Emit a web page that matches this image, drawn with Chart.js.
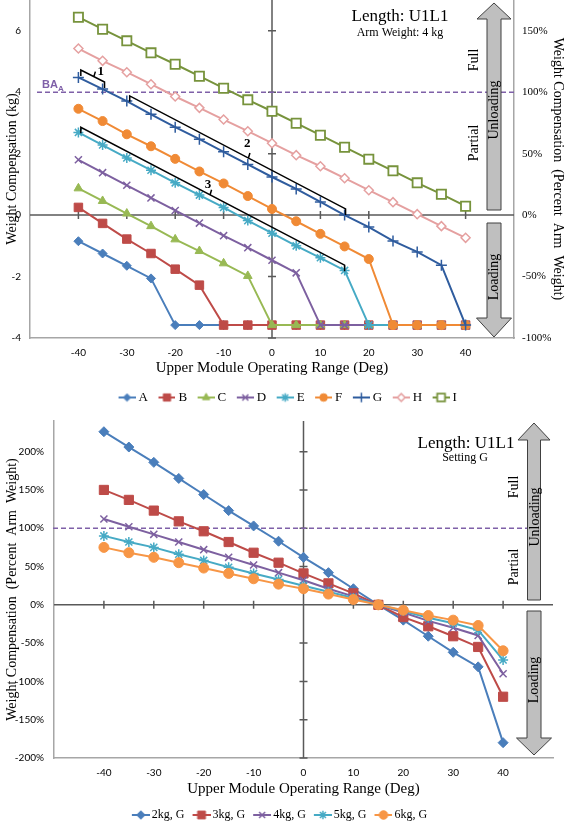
<!DOCTYPE html>
<html>
<head>
<meta charset="utf-8">
<script src="https://cdn.jsdelivr.net/npm/chart.js@4.4.1/dist/chart.umd.min.js"></script>
<style>
  body { margin: 0; background: #fff; }
  #wrap { position: relative; width: 567px; height: 823px; overflow: hidden; }
  canvas { position: absolute; left: 0; }
  #topChart { top: 0; }
  #bottomChart { top: 405px; }
</style>
</head>
<body>
<div id="wrap">
  <canvas id="topChart" width="567" height="414"></canvas>
  <canvas id="bottomChart" width="567" height="426"></canvas>
</div>
<script>
// Operating range (deg) shared by every series
const angles = [-40, -35, -30, -25, -20, -15, -10, -5, 0, 5, 10, 15, 20, 25, 30, 35, 40];
const xTicks = [-40, -30, -20, -10, 0, 10, 20, 30, 40];
const kgTicks = [-4, -2, 0, 2, 4, 6];
const pctTicksTop = [-100, -50, 0, 50, 100, 150];
const pctTicksBottom = [-200, -150, -100, -50, 0, 50, 100, 150, 200];

// Top chart: weight compensation (kg) per setting, arm weight 4 kg
const settingNames = ['A', 'B', 'C', 'D', 'E', 'F', 'G', 'H', 'I'];
const setA = [-0.85, -1.25, -1.65, -2.06, -3.58, -3.58, -3.58, -3.58, -3.58, -3.58, -3.58, -3.58, -3.58, -3.58, -3.58, -3.58, -3.58];
const setB = [0.25, -0.27, -0.78, -1.25, -1.76, -2.28, -3.58, -3.58, -3.58, -3.58, -3.58, -3.58, -3.58, -3.58, -3.58, -3.58, -3.58];
const setC = [0.87, 0.46, 0.05, -0.36, -0.79, -1.17, -1.57, -1.98, -3.58, -3.58, -3.58, -3.58, -3.58, -3.58, -3.58, -3.58, -3.58];
const setD = [1.8, 1.38, 0.97, 0.56, 0.15, -0.26, -0.67, -1.06, -1.47, -1.88, -3.58, -3.58, -3.58, -3.58, -3.58, -3.58, -3.58];
const setE = [2.69, 2.28, 1.86, 1.46, 1.05, 0.65, 0.25, -0.18, -0.59, -1.0, -1.39, -1.8, -3.58, -3.58, -3.58, -3.58, -3.58];
const setF = [3.46, 3.06, 2.63, 2.24, 1.83, 1.42, 1.03, 0.62, 0.2, -0.2, -0.61, -1.02, -1.43, -3.58, -3.58, -3.58, -3.58];
const setG = [4.48, 4.1, 3.71, 3.28, 2.86, 2.47, 2.06, 1.65, 1.24, 0.85, 0.43, 0.0, -0.39, -0.84, -1.2, -1.63, -3.58];
const setH = [5.42, 5.02, 4.65, 4.26, 3.86, 3.49, 3.11, 2.73, 2.34, 1.95, 1.59, 1.2, 0.81, 0.42, 0.03, -0.36, -0.74];
const setI = [6.44, 6.05, 5.67, 5.28, 4.91, 4.52, 4.13, 3.75, 3.38, 2.99, 2.6, 2.21, 1.82, 1.44, 1.05, 0.68, 0.29];

// Bottom chart: percent arm weight, setting G, arm weights 2..6 kg
const weightNames = ['2kg, G', '3kg, G', '4kg, G', '5kg, G', '6kg, G'];
const arm2kg = [226, 206, 186, 165, 144, 123, 103, 83, 62, 42, 21, 0, -20, -41, -62, -81, -180];
const arm3kg = [150, 137, 123, 109, 96, 82, 68, 55, 41, 28, 15, 0, -16, -28, -41, -55, -120];
const arm4kg = [112, 102, 92, 82, 72, 62, 52, 42, 32, 21, 11, 0, -10, -21, -30, -40, -90];
const arm5kg = [90, 82, 75, 66, 58, 49, 41, 33, 25, 17, 9, 0, -8, -17, -24, -33, -72];
const arm6kg = [75, 68, 62, 55, 48, 41, 34, 27, 21, 14, 7, 0, -7, -14, -20, -27, -60];

const SERIF = 'Liberation Serif';
const SANS = 'Lato';
const PURPLE = '#7F60A8';

// marker look for each series
const topStyles = [
    { color: '#4A7EBB', shape: 'rectRot', r: 4.5, bw: 1 },
    { color: '#BE4B48', shape: 'rect', r: 6, bw: 1 },
    { color: '#98B954', shape: 'triangle', r: 5, bw: 1 },
    { color: '#7D60A0', shape: 'crossRot', r: 5, bw: 1.5 },
    { color: '#46AAC5', shape: 'star', r: 5, bw: 1.5 },
    { color: '#F08A35', shape: 'circle', r: 4.5, bw: 1 },
    { color: '#2F5C9E', shape: 'cross', r: 5.5, bw: 1.5 },
    { color: '#E5A0A0', shape: 'rectRot', r: 4.5, bw: 1.5, fill: '#ffffff' },
    { color: '#77933C', shape: 'rect', r: 6.5, bw: 1.8, fill: '#ffffff' }
];
const bottomStyles = [
    { color: '#4A7EBB', shape: 'rectRot', r: 5, bw: 1 },
    { color: '#BE4B48', shape: 'rect', r: 6.5, bw: 1 },
    { color: '#7D60A0', shape: 'crossRot', r: 5, bw: 1.5 },
    { color: '#46AAC5', shape: 'star', r: 5, bw: 1.5 },
    { color: '#F79646', shape: 'circle', r: 5, bw: 1 }
];

function legendImage(st, width, lineLen) {
    const c = document.createElement('canvas');
    c.width = width;
    c.height = 16;
    const g = c.getContext('2d');
    g.strokeStyle = st.color;
    g.lineWidth = 2;
    g.beginPath();
    g.moveTo(width - lineLen, 8);
    g.lineTo(width, 8);
    g.stroke();
    g.fillStyle = st.fill || st.color;
    g.lineWidth = st.bw;
    Chart.helpers.drawPoint(g, { pointStyle: st.shape, radius: st.r * 0.85, rotation: 0, borderWidth: st.bw }, width - lineLen / 2, 8);
    return c;
}

function makeDataset(label, values, st, idx, img) {
    return {
        label: label,
        data: values.map((v, i) => ({ x: angles[i], y: v })),
        borderColor: st.color,
        backgroundColor: st.fill || st.color,
        borderWidth: 2,
        pointStyle: st.shape,
        pointRadius: st.r,
        pointHoverRadius: st.r,
        pointBorderColor: st.color,
        pointBackgroundColor: st.fill || st.color,
        pointBorderWidth: st.bw,
        tension: 0,
        clip: false,
        order: -idx,
        legendImg: img
    };
}

function legendLabels(chart) {
    return chart.data.datasets.map((ds, i) => ({
        text: ds.label,
        pointStyle: ds.legendImg,
        fillStyle: 'rgba(0,0,0,0)',
        strokeStyle: 'rgba(0,0,0,0)',
        lineWidth: 0,
        hidden: false,
        datasetIndex: i,
        fontColor: '#000'
    }));
}

function fixedTicks(list) {
    return scale => { scale.ticks = list.map(v => ({ value: v })); };
}

// fixed axis size, and no extra room for the end labels
function fitWidth(w) {
    return s => { s.width = w; s.paddingTop = 0; s.paddingBottom = 0; };
}
function fitHeight(h) {
    return s => { s.height = h; s.paddingLeft = 0; s.paddingRight = 0; };
}

// axes crossing at the origin, with small tick marks
function drawCrossAxes(chart) {
    const { ctx, chartArea: a, scales } = chart;
    const x = scales.x, y = scales.y;
    const x0 = x.getPixelForValue(0), y0 = y.getPixelForValue(0);
    ctx.save();
    ctx.strokeStyle = '#595959';
    ctx.lineWidth = 1.5;
    ctx.beginPath();
    ctx.moveTo(a.left, y0); ctx.lineTo(a.right, y0);
    ctx.moveTo(x0, a.top); ctx.lineTo(x0, a.bottom);
    x.ticks.forEach(t => {
        if (t.value === 0) return;
        const px = x.getPixelForValue(t.value);
        ctx.moveTo(px, y0 - 4); ctx.lineTo(px, y0 + 4);
    });
    y.ticks.forEach(t => {
        if (t.value === 0) return;
        const py = y.getPixelForValue(t.value);
        ctx.moveTo(x0 - 4, py); ctx.lineTo(x0 + 4, py);
    });
    ctx.stroke();
    ctx.restore();
}

function drawDashed(ctx, x1, x2, yPx) {
    ctx.save();
    ctx.strokeStyle = PURPLE;
    ctx.lineWidth = 1.5;
    ctx.setLineDash([5, 3]);
    ctx.beginPath();
    ctx.moveTo(x1, yPx); ctx.lineTo(x2, yPx);
    ctx.stroke();
    ctx.restore();
}

function drawBlockArrow(ctx, cx, from, to, shaftHalf, headHalf, headLen) {
    const dir = to < from ? -1 : 1;
    const base = to - dir * headLen;
    ctx.save();
    ctx.beginPath();
    ctx.moveTo(cx - shaftHalf, from);
    ctx.lineTo(cx - shaftHalf, base);
    ctx.lineTo(cx - headHalf, base);
    ctx.lineTo(cx, to);
    ctx.lineTo(cx + headHalf, base);
    ctx.lineTo(cx + shaftHalf, base);
    ctx.lineTo(cx + shaftHalf, from);
    ctx.closePath();
    ctx.fillStyle = '#BFBFBF';
    ctx.fill();
    ctx.strokeStyle = '#404040';
    ctx.lineWidth = 1;
    ctx.stroke();
    ctx.restore();
}

function vText(ctx, text, x, y, size) {
    ctx.save();
    ctx.translate(x, y);
    ctx.rotate(-Math.PI / 2);
    ctx.font = size + 'px "' + SERIF + '"';
    ctx.fillStyle = '#000';
    ctx.textAlign = 'center';
    ctx.textBaseline = 'middle';
    ctx.fillText(text, 0, 0);
    ctx.restore();
}

function hText(ctx, text, x, y, font) {
    ctx.save();
    ctx.font = font;
    ctx.fillStyle = '#000';
    ctx.textAlign = 'center';
    ctx.textBaseline = 'middle';
    ctx.fillText(text, x, y);
    ctx.restore();
}

// brackets over setting G and E ranges, in data units
const brackets = [
    { label: '1', from: [-39.5, 4.72], to: [-34.6, 4.33], at: 0.55, text: [-35.4, 4.68] },
    { label: '2', from: [-29.4, 3.88], to: [15.2, 0.2], at: 0.55, text: [-5.1, 2.34] },
    { label: '3', from: [-39.5, 2.86], to: [15, -1.63], at: 0.49, text: [-13.2, 0.98] }
];

function drawBrackets(chart) {
    const { ctx, scales } = chart;
    const x = scales.x, y = scales.y;
    ctx.save();
    ctx.strokeStyle = '#000';
    ctx.lineWidth = 1.5;
    ctx.font = 'bold 13px "' + SERIF + '"';
    ctx.fillStyle = '#000';
    ctx.textAlign = 'center';
    ctx.textBaseline = 'middle';
    brackets.forEach(b => {
        const x1 = x.getPixelForValue(b.from[0]), y1 = y.getPixelForValue(b.from[1]);
        const x2 = x.getPixelForValue(b.to[0]), y2 = y.getPixelForValue(b.to[1]);
        const mx = x1 + (x2 - x1) * b.at, my = y1 + (y2 - y1) * b.at;
        ctx.beginPath();
        ctx.moveTo(x1, y1 + 6); ctx.lineTo(x1, y1);
        ctx.lineTo(x2, y2); ctx.lineTo(x2, y2 + 6);
        ctx.moveTo(mx, my); ctx.lineTo(mx + 1.5, my - 5);
        ctx.stroke();
        ctx.fillText(b.label, x.getPixelForValue(b.text[0]), y.getPixelForValue(b.text[1]));
    });
    ctx.restore();
}

const topDecor = {
    id: 'topDecor',
    beforeDatasetsDraw(chart) {
        drawCrossAxes(chart);
        const yKg = chart.scales.y.getPixelForValue(4);
        drawDashed(chart.ctx, 37, chart.chartArea.right, yKg);
    },
    afterDatasetsDraw(chart) {
        const ctx = chart.ctx;
        drawBrackets(chart);
        // BA_A label
        const yKg = chart.scales.y.getPixelForValue(4);
        ctx.save();
        ctx.fillStyle = PURPLE;
        ctx.textBaseline = 'alphabetic';
        ctx.font = 'bold 11px "Liberation Sans"';
        ctx.fillText('BA', 42, yKg - 4);
        ctx.font = 'bold 8px "Liberation Sans"';
        ctx.fillText('A', 58, yKg - 1);
        ctx.restore();
        // arrows
        drawBlockArrow(ctx, 494, 210, 3, 7, 17, 16);
        drawBlockArrow(ctx, 494, 223, 337, 7, 17.5, 19);
        vText(ctx, 'Unloading', 494, 110, 14);
        vText(ctx, 'Loading', 494, 277, 14);
        vText(ctx, 'Full', 474, 60, 14);
        vText(ctx, 'Partial', 474, 143, 14);
        hText(ctx, 'Length: U1L1', 400, 17, '17px "' + SERIF + '"');
        hText(ctx, 'Arm Weight: 4 kg', 400, 33, '12px "' + SERIF + '"');
    }
};

const bottomDecor = {
    id: 'bottomDecor',
    beforeDatasetsDraw(chart) {
        drawCrossAxes(chart);
        const yPct = chart.scales.y.getPixelForValue(100);
        drawDashed(chart.ctx, 53, 527, yPct);
    },
    afterDatasetsDraw(chart) {
        const ctx = chart.ctx;
        drawBlockArrow(ctx, 534, 195, 18, 6.5, 16, 17);
        drawBlockArrow(ctx, 534, 206, 350, 7, 17.5, 17);
        vText(ctx, 'Unloading', 535, 112, 14);
        vText(ctx, 'Loading', 534, 275, 14);
        vText(ctx, 'Full', 514, 82, 14);
        vText(ctx, 'Partial', 514, 162, 14);
        hText(ctx, 'Length: U1L1', 466, 39, '17px "' + SERIF + '"');
        hText(ctx, 'Setting G', 465, 53, '12px "' + SERIF + '"');
    }
};

const axisBorder = { color: '#A6A6A6', width: 1.5 };
const noGrid = { display: false, drawTicks: false };

// ---- top chart ----
const topSeries = [setA, setB, setC, setD, setE, setF, setG, setH, setI];
const topDatasets = topSeries.map((vals, i) =>
    makeDataset(settingNames[i], vals, topStyles[i], i, legendImage(topStyles[i], 29, 17)));

new Chart(document.getElementById('topChart'), {
    type: 'line',
    data: { datasets: topDatasets },
    options: {
        responsive: false,
        animation: false,
        events: [],
        layout: { padding: 0, autoPadding: false },
        plugins: {
            legend: {
                position: 'bottom',
                labels: {
                    usePointStyle: true,
                    pointStyleWidth: 22,
                    padding: 2,
                    color: '#000',
                    font: { family: SERIF, size: 13 },
                    generateLabels: legendLabels
                }
            },
            tooltip: { enabled: false }
        },
        scales: {
            x: {
                type: 'linear',
                min: -50,
                max: 50,
                afterBuildTicks: fixedTicks(xTicks),
                afterFit: fitHeight(51),
                grid: noGrid,
                border: axisBorder,
                ticks: { padding: 9, autoSkip: false, maxRotation: 0, color: '#000', font: { family: SANS, size: 10 } },
                title: { display: true, text: 'Upper Module Operating Range (Deg)', color: '#000', font: { family: SERIF, size: 15 }, padding: { top: 0, bottom: 12 } }
            },
            y: {
                position: 'left',
                min: -4,
                max: 7,
                afterBuildTicks: fixedTicks(kgTicks),
                afterFit: fitWidth(30),
                grid: noGrid,
                border: axisBorder,
                ticks: { padding: 9, autoSkip: false, color: '#000', font: { family: SANS, size: 10 } },
                title: { display: true, text: 'Weight Compensation (kg)', color: '#000', font: { family: SERIF, size: 14 }, padding: { top: 4, bottom: 0 } }
            },
            y2: {
                position: 'right',
                min: -100,
                max: 175,
                afterBuildTicks: fixedTicks(pctTicksTop),
                afterFit: fitWidth(53),
                grid: noGrid,
                border: axisBorder,
                ticks: { padding: 8, autoSkip: false, color: '#000', font: { family: SERIF, size: 11 }, callback: v => v + '%' },
                title: { display: true, text: 'Weight Compensation  (Percent  Arm  Weight)', color: '#000', font: { family: SERIF, size: 14 }, padding: { top: 1, bottom: 0 } }
            }
        }
    },
    plugins: [topDecor]
});

// ---- bottom chart ----
const bottomSeries = [arm2kg, arm3kg, arm4kg, arm5kg, arm6kg];
const bottomDatasets = bottomSeries.map((vals, i) =>
    makeDataset(weightNames[i], vals, bottomStyles[i], i, legendImage(bottomStyles[i], 28, 18)));

new Chart(document.getElementById('bottomChart'), {
    type: 'line',
    data: { datasets: bottomDatasets },
    options: {
        responsive: false,
        animation: false,
        events: [],
        layout: { padding: { top: 16, right: 14, left: 0, bottom: 0 }, autoPadding: false },
        plugins: {
            legend: {
                position: 'bottom',
                labels: {
                    usePointStyle: true,
                    pointStyleWidth: 20,
                    padding: 2,
                    color: '#000',
                    font: { family: SERIF, size: 12 },
                    generateLabels: legendLabels
                }
            },
            tooltip: { enabled: false }
        },
        scales: {
            x: {
                type: 'linear',
                min: -50,
                max: 50,
                afterBuildTicks: fixedTicks(xTicks),
                afterFit: fitHeight(49),
                grid: noGrid,
                border: axisBorder,
                ticks: { padding: 9, autoSkip: false, maxRotation: 0, color: '#000', font: { family: SANS, size: 10 } },
                title: { display: true, text: 'Upper Module Operating Range (Deg)', color: '#000', font: { family: SERIF, size: 15 }, padding: { top: 0, bottom: 9 } }
            },
            y: {
                position: 'left',
                min: -200,
                max: 240,
                afterBuildTicks: fixedTicks(pctTicksBottom),
                afterFit: fitWidth(54),
                grid: noGrid,
                border: axisBorder,
                ticks: { padding: 10, autoSkip: false, color: '#000', font: { family: SANS, size: 10 }, callback: v => v + '%' },
                title: { display: true, text: 'Weight Compensation  (Percent  Arm  Weight)', color: '#000', font: { family: SERIF, size: 14 }, padding: { top: 4, bottom: 0 } }
            }
        }
    },
    plugins: [bottomDecor]
});
</script>
</body>
</html>
